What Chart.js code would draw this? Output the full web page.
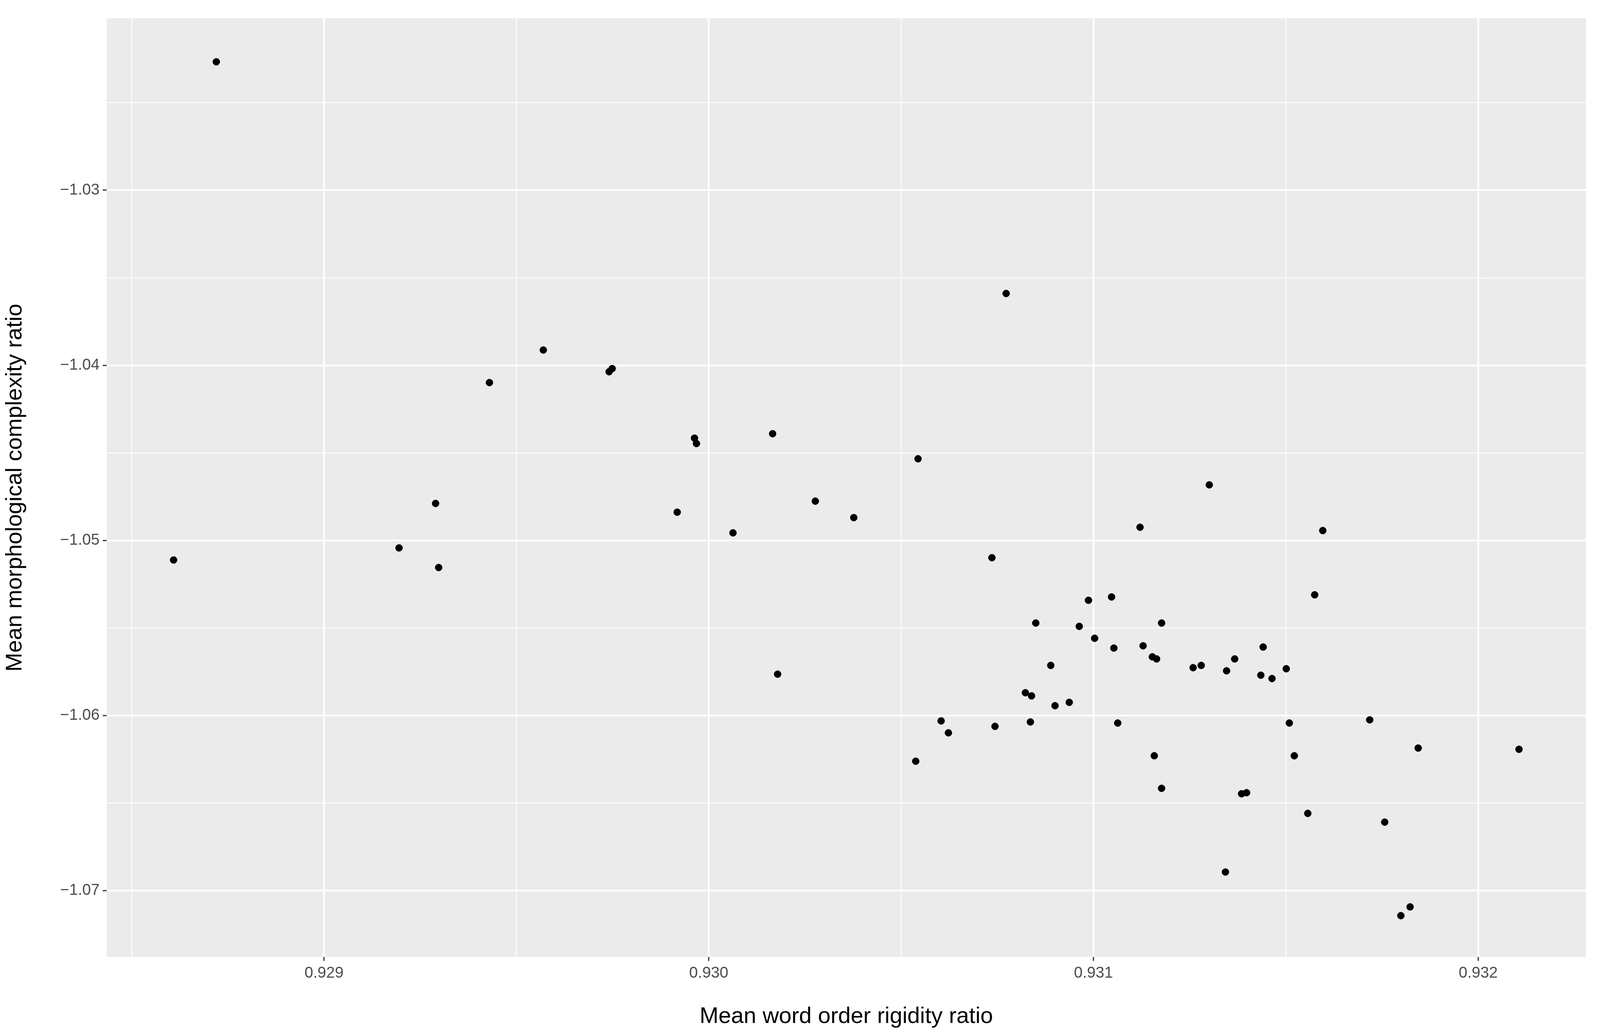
<!DOCTYPE html>
<html><head><meta charset="utf-8">
<script src="https://cdn.jsdelivr.net/npm/chart.js@4/dist/chart.umd.min.js"></script>
<style>html,body{margin:0;padding:0;background:#fff;overflow:hidden;width:100%;height:100%}#wrap{position:relative;width:100vw;height:100vh}</style>
</head><body>
<div id="wrap"><canvas id="c"></canvas></div>
<script>
const xValues = [0.928720,0.928609,0.929195,0.929290,0.929298,0.929430,0.929570,0.929741,0.929749,0.929918,0.929963,0.929968,0.930063,0.930166,0.930179,0.930277,0.930377,0.930544,0.930538,0.930604,0.930623,0.930736,0.930744,0.930773,0.930823,0.930836,0.930839,0.930850,0.930889,0.930900,0.930937,0.930963,0.930987,0.931003,0.931047,0.931053,0.931063,0.931121,0.931129,0.931153,0.931164,0.931158,0.931177,0.931177,0.931259,0.931280,0.931301,0.931346,0.931343,0.931367,0.931385,0.931398,0.931435,0.931441,0.931464,0.931501,0.931509,0.931522,0.931557,0.931575,0.931596,0.931718,0.931757,0.931799,0.931823,0.931844,0.932106];
const yValues = [-1.02267,-1.05112,-1.05043,-1.04789,-1.05155,-1.04099,-1.03913,-1.04037,-1.04019,-1.04839,-1.04416,-1.04447,-1.04957,-1.04391,-1.05764,-1.04776,-1.04870,-1.04534,-1.06261,-1.06031,-1.06099,-1.05099,-1.06062,-1.03590,-1.05870,-1.06037,-1.05888,-1.05472,-1.05714,-1.05944,-1.05925,-1.05491,-1.05342,-1.05559,-1.05323,-1.05615,-1.06043,-1.04925,-1.05602,-1.05665,-1.05677,-1.06230,-1.05472,-1.06416,-1.05727,-1.05714,-1.04683,-1.05745,-1.06894,-1.05677,-1.06447,-1.06441,-1.05770,-1.05609,-1.05789,-1.05733,-1.06043,-1.06230,-1.06559,-1.05311,-1.04944,-1.06025,-1.06609,-1.07143,-1.07093,-1.06186,-1.06193];
const xTicks = [0.9285,0.929,0.9295,0.930,0.9305,0.931,0.9315,0.932];
const xTickLabels = ['', '0.929','', '0.930','', '0.931','', '0.932'];
const yTicks = [-1.075,-1.07,-1.065,-1.06,-1.055,-1.05,-1.045,-1.04,-1.035,-1.03,-1.025];
const yTickLabels = ['', '\u22121.07','', '\u22121.06','', '\u22121.05','', '\u22121.04','', '\u22121.03',''];

const pts = xValues.map((x,i)=>({x, y:yValues[i]}));
const bg = {id:'bg', beforeDraw(c){const a=c.chartArea,g=c.ctx;g.save();g.fillStyle='#EBEBEB';g.fillRect(a.left,a.top,a.right-a.left,a.bottom-a.top);g.restore();}};
const isMajor = (arr, labels, v) => { const i = arr.findIndex(t=>Math.abs(t-v)<1e-9); return i>=0 && labels[i]!==''; };
function axis(arr, labels, min, max, title, fit){
  return {
    type:'linear', min, max,
    afterBuildTicks(s){ s.ticks = arr.filter(v=>v>=min&&v<=max).map(v=>({value:v})); },
    afterFit: fit,
    border:{display:false},
    grid:{
      color:'#FFFFFF',
      lineWidth:(c)=> c.tick && isMajor(arr,labels,c.tick.value) ? 4.5 : 2.2,
      drawTicks:true, tickLength:10,
      tickColor:(c)=> c.tick && isMajor(arr,labels,c.tick.value) ? '#333333' : 'rgba(0,0,0,0)',
      tickWidth:3
    },
    ticks:{
      autoSkip:false, maxRotation:0, color:'#4D4D4D', padding:8,
      font:{family:'Liberation Sans', size:40},
      callback:(v)=>{const i=arr.findIndex(t=>Math.abs(t-v)<1e-9);return i>=0?labels[i]:'';}
    },
    title:{display:true, text:title, color:'#000', font:{family:'Liberation Sans', size:58}, padding:{top:4,bottom:4}}
  };
}
new Chart(document.getElementById('c'), {
  type:'scatter',
  data:{datasets:[{data:pts, backgroundColor:'#000', borderColor:'#000', pointRadius:9, pointHoverRadius:9}]},
  options:{
    responsive:true, maintainAspectRatio:false, animation:false,
    layout:{padding:{top:47,right:36,left:0,bottom:0}},
    plugins:{legend:{display:false}, tooltip:{enabled:false}},
    scales:{
      x: axis(xTicks, xTickLabels, 0.928435, 0.932280, 'Mean word order rigidity ratio', s=>{s.height=192;}),
      y: axis(yTicks, yTickLabels, -1.07379, -1.02019, 'Mean morphological complexity ratio', s=>{s.width=273;})
    }
  },
  plugins:[bg]
});
</script>
</body></html>
